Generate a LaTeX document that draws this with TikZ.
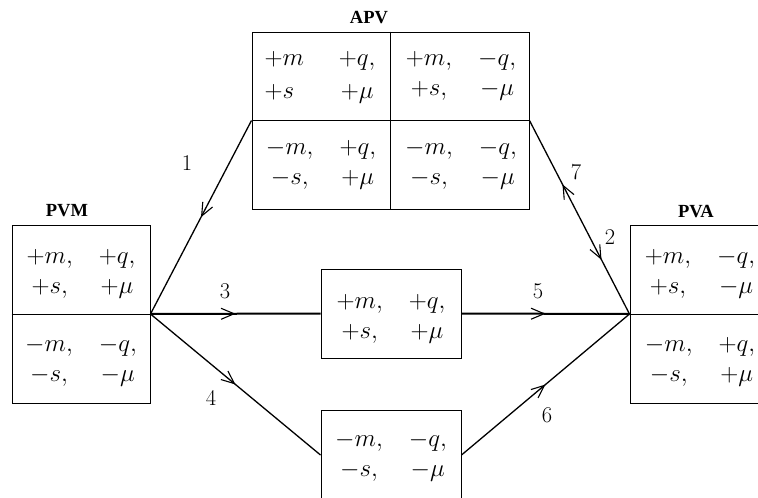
\RequirePackage{fix-cm}
\documentclass[tikz,border=0pt]{standalone}
\usepackage{fontspec}
\newfontfamily\titlefont{Liberation Serif}
\usetikzlibrary{decorations.markings,arrows.meta}
\newcommand\qcell[4]{\begin{tabular}{@{}c@{\hspace{26pt}}c@{}}$#1$&$#2$\\$#3$&$#4$\end{tabular}}
\newcommand\qcellL[4]{\begin{tabular}{@{}l@{\hspace{35pt}}c@{}}$#1$&$#2$\\[3pt]$#3$&$#4$\end{tabular}}
\begin{document}
\begin{tikzpicture}[x=1pt,y=-1pt,
  box/.style={draw,line width=1pt,inner sep=0pt,rectangle},
  divider/.style={line width=1pt},
  cell/.style={inner sep=0pt,font=\fontsize{25}{30}\selectfont},
  ttl/.style={font=\titlefont\bfseries\fontsize{18.5}{20}\selectfont},
  lab/.style={font=\fontsize{22.5}{26}\selectfont,inner sep=0pt},
  conn/.style={line width=1.3pt},
  hconn/.style={line width=2pt},
  midarrow/.style={postaction={decorate},decoration={markings,
     mark=at position #1 with {\arrow[line width=1.1pt]{Straight Barb[length=13pt,width=11pt]}}}},
  twoarrow/.style 2 args={postaction={decorate},decoration={markings,
     mark=at position #1 with {\arrowreversed[line width=1.1pt]{Straight Barb[length=13pt,width=11pt]}},
     mark=at position #2 with {\arrow[line width=1.1pt]{Straight Barb[length=13pt,width=11pt]}}}}
]
\useasboundingbox (0,0) rectangle (758,498);
\clip (0,0) rectangle (758,498);
\fill[white] (0,0) rectangle (758,498);

% boxes
\node[box,minimum width=277pt,minimum height=177pt] (apv) at (390.5,120.5) {};
\node[box,minimum width=138pt,minimum height=178pt] (pvm) at (81,314) {};
\node[box,minimum width=138pt,minimum height=178pt] (pva) at (699,314) {};
\node[box,minimum width=140pt,minimum height=89pt] (mid) at (391,313.5) {};
\node[box,minimum width=140pt,minimum height=90pt] (bot) at (391,455) {};
\draw[divider] (apv.west) -- (apv.east);
\draw[divider] (apv.north) -- (apv.south);
\draw[divider] (pvm.west) -- (pvm.east);
\draw[divider] (pva.west) -- (pva.east);

% titles
\node[ttl] (tapv) at (369,18) {APV};
\node[ttl] (tpvm) at (67,211) {PVM};
\node[ttl] (tpva) at (696,212) {PVA};

% cell contents
\node[cell] (apv11) at (320,76) {\qcellL{+m}{+q,}{+s}{+\mu}};
\node[cell] (apv12) at (461,74) {\qcell{+m,}{-q,}{+s,}{-\mu}};
\node[cell] (apv21) at (321,163) {\qcell{-m,}{+q,}{-s,}{+\mu}};
\node[cell] (apv22) at (461,163) {\qcell{-m,}{-q,}{-s,}{-\mu}};
\node[cell] (pvm1) at (81,272) {\qcell{+m,}{+q,}{+s,}{+\mu}};
\node[cell] (pvm2) at (81,360) {\qcell{-m,}{-q,}{-s,}{-\mu}};
\node[cell] (pva1) at (700,272) {\qcell{+m,}{-q,}{+s,}{-\mu}};
\node[cell] (pva2) at (700,360) {\qcell{-m,}{+q,}{-s,}{+\mu}};
\node[cell] (midc) at (391,317) {\qcell{+m,}{+q,}{+s,}{+\mu}};
\node[cell] (botc) at (391,455) {\qcell{-m,}{-q,}{-s,}{-\mu}};

% connectors
\draw[conn,midarrow=0.5] (apv.west) -- (pvm.east);
\draw[hconn,midarrow=0.5] (pvm.east) -- (mid.west);
\draw[conn,midarrow=0.5] (pvm.east) -- (bot.west);
\draw[hconn,midarrow=0.5] (mid.east) -- (pva.west);
\draw[conn,midarrow=0.5] (bot.east) -- (pva.west);
\draw[conn,twoarrow={0.33}{0.72}] (apv.east) -- (pva.west);

% labels
\node[lab] (l1) at (187,163) {1};
\node[lab] (l3) at (225,291) {3};
\node[lab] (l4) at (211,398) {4};
\node[lab] (l5) at (538,291) {5};
\node[lab] (l6) at (547,415) {6};
\node[lab] (l7) at (576,172) {7};
\node[lab] (l2) at (610,237) {2};
\end{tikzpicture}
\end{document}
